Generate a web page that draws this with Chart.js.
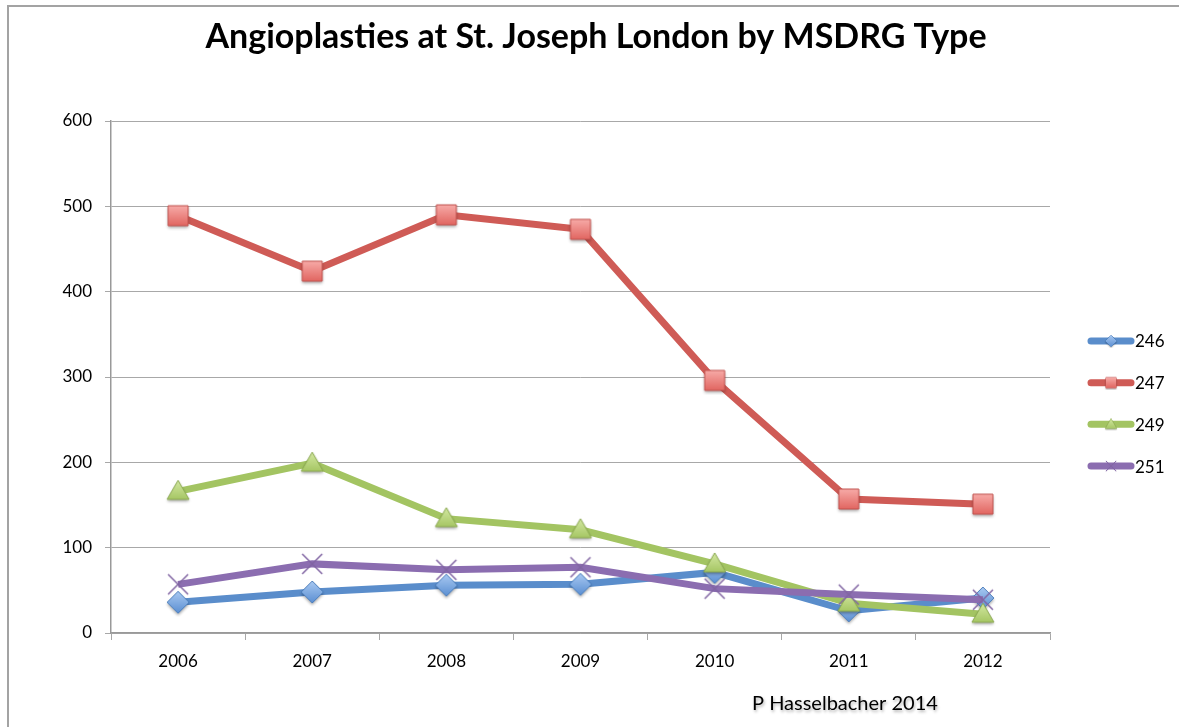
<!DOCTYPE html>
<html>
<head>
<meta charset="utf-8">
<script src="https://cdn.jsdelivr.net/npm/chart.js@4.4.1/dist/chart.umd.min.js"></script>
<style>
  html, body { margin: 0; padding: 0; background: #fff; }
  #wrap { width: 1179px; height: 727px; position: relative; }
</style>
</head>
<body>
<div id="wrap"><canvas id="chart"></canvas></div>
<script>
// Angioplasties at St. Joseph London by MSDRG Type

const years = ["2006", "2007", "2008", "2009", "2010", "2011", "2012"];
const drg246 = [36, 48, 56, 57, 71, 26, 41];
const drg247 = [489, 424, 490, 473, 296, 157, 151];
const drg249 = [166, 199, 134, 121, 81, 35, 22];
const drg251 = [57, 81, 74, 77, 52, 45, 39];
const yTicks = [0, 100, 200, 300, 400, 500, 600];

const TITLE = "Angioplasties at St. Joseph London by MSDRG Type";
const CREDIT = "P Hasselbacher 2014";
const FONT = "Lato, 'Open Sans', sans-serif";

const colors = {
  blue: { line: "#5a8dcb", light: "#a9c9f2", dark: "#5b8fd2", edge: "#4a7dbb" },
  red: { line: "#cf5b56", light: "#f8aeab", dark: "#e0625d", edge: "#c0504d" },
  green: { line: "#a3c462", light: "#d3e8a2", dark: "#9fc15a", edge: "#8aa84f" },
  purple: { line: "#8b6db0", edge: "#8064a2" },
};

// --- marker images (gradient + shadow) ---
function makeMarker(kind, c) {
  const cv = document.createElement("canvas");
  cv.width = 30;
  cv.height = 30;
  const g = cv.getContext("2d");
  const cx = 15, cy = 15;
  g.save();
  if (kind !== "cross") {
    g.shadowColor = "rgba(0,0,0,0.35)";
    g.shadowBlur = 3;
    g.shadowOffsetY = 2;
  }
  const grad = g.createLinearGradient(0, cy - 11, 0, cy + 11);
  if (c.light) {
    grad.addColorStop(0, c.light);
    grad.addColorStop(1, c.dark);
  }
  g.beginPath();
  if (kind === "square") {
    g.rect(cx - 10, cy - 10, 20, 20);
  } else if (kind === "diamond") {
    g.moveTo(cx, cy - 11);
    g.lineTo(cx + 11, cy);
    g.lineTo(cx, cy + 11);
    g.lineTo(cx - 11, cy);
    g.closePath();
  } else if (kind === "triangle") {
    g.moveTo(cx, cy - 11);
    g.lineTo(cx + 11, cy + 8);
    g.lineTo(cx - 11, cy + 8);
    g.closePath();
  }
  if (kind === "cross") {
    g.moveTo(cx - 10, cy - 10);
    g.lineTo(cx + 10, cy + 10);
    g.moveTo(cx + 10, cy - 10);
    g.lineTo(cx - 10, cy + 10);
    g.strokeStyle = c.edge;
    g.lineWidth = 1.5;
    g.stroke();
  } else {
    g.fillStyle = grad;
    g.fill();
    g.shadowColor = "transparent";
    g.strokeStyle = c.edge;
    g.lineWidth = 1;
    g.stroke();
  }
  g.restore();
  return cv;
}

const series = [
  { label: "246", data: drg246, c: colors.blue, marker: "diamond" },
  { label: "247", data: drg247, c: colors.red, marker: "square" },
  { label: "249", data: drg249, c: colors.green, marker: "triangle" },
  { label: "251", data: drg251, c: colors.purple, marker: "cross" },
];

// small legend marker (scaled-down)
function makeLegendMarker(kind, c) {
  const big = makeMarker(kind, c);
  const cv = document.createElement("canvas");
  cv.width = 14;
  cv.height = 14;
  cv.getContext("2d").drawImage(big, 0, 0, 30, 30, -1, -1, 16, 16);
  return cv;
}

// --- frame, title, legend, credit ---
const decorPlugin = {
  id: "decor",
  beforeDraw(chart) {
    const ctx = chart.ctx;
    ctx.save();
    ctx.strokeStyle = "#a3a3a3";
    ctx.lineWidth = 2;
    ctx.beginPath();
    ctx.moveTo(8, chart.height);
    ctx.lineTo(8, 6);
    ctx.lineTo(chart.width, 6);
    ctx.stroke();

    ctx.fillStyle = "#000";
    ctx.font = "bold 34px " + FONT;
    ctx.textAlign = "center";
    ctx.textBaseline = "middle";
    ctx.fillText(TITLE, 596, 37);
    ctx.restore();
  },
  afterDraw(chart) {
    const ctx = chart.ctx;
    const area = chart.chartArea;
    ctx.save();
    // legend
    const x0 = area.right + 38;
    const yMid = 403.5;
    const step = 41.7;
    chart.data.datasets.forEach((ds, i) => {
      const y = yMid + (i - 1.5) * step;
      ctx.strokeStyle = ds.borderColor;
      ctx.lineWidth = 7;
      ctx.lineCap = "round";
      ctx.beginPath();
      ctx.moveTo(x0 + 3, y);
      ctx.lineTo(x0 + 43, y);
      ctx.stroke();
      ctx.drawImage(ds.legendMarker, x0 + 23 - 7, y - 7);
      ctx.fillStyle = "#000";
      ctx.font = "17px " + FONT;
      ctx.textAlign = "left";
      ctx.textBaseline = "middle";
      ctx.fillText(ds.label, x0 + 47, y + 1);
    });
    // credit
    ctx.shadowColor = "rgba(0,0,0,0.3)";
    ctx.shadowBlur = 3;
    ctx.shadowOffsetX = 1;
    ctx.shadowOffsetY = 2;
    ctx.fillStyle = "#000";
    ctx.font = "20px " + FONT;
    ctx.textAlign = "left";
    ctx.textBaseline = "middle";
    ctx.fillText(CREDIT, 752, 704);
    ctx.restore();
  },
};

const gridColor = "#a8a8a8";

new Chart(document.getElementById("chart"), {
  type: "line",
  data: {
    labels: years,
    datasets: series.map((s, i) => ({
      label: s.label,
      data: s.data,
      borderColor: s.c.line,
      borderWidth: 7,
      tension: 0,
      pointStyle: makeMarker(s.marker, s.c),
      pointRadius: 11,
      pointHoverRadius: 11,
      legendMarker: makeLegendMarker(s.marker, s.c),
      order: 4 - i,
    })),
  },
  options: {
    responsive: true,
    maintainAspectRatio: false,
    animation: false,
    events: [],
    layout: { padding: { left: 0, right: 129, top: 121, bottom: 0 } },
    plugins: {
      legend: { display: false },
      tooltip: { enabled: false },
      title: { display: false },
    },
    scales: {
      x: {
        offset: true,
        grid: {
          display: true,
          drawOnChartArea: false,
          drawTicks: true,
          tickLength: 7,
          tickColor: gridColor,
          offset: true,
        },
        border: { display: true, color: "#999", width: 1.5 },
        ticks: { color: "#000", font: { family: FONT, size: 17 }, padding: 11, maxRotation: 0 },
        afterFit: (s) => { s.height = 94; },
      },
      y: {
        min: 0,
        max: 600,
        afterBuildTicks: (s) => { s.ticks = yTicks.map((v) => ({ value: v })); },
        grid: { color: gridColor, lineWidth: 1, tickLength: 6, tickColor: gridColor },
        border: { display: true, color: "#999", width: 1.5 },
        ticks: { color: "#000", font: { family: FONT, size: 17 }, padding: 13 },
        afterFit: (s) => { s.width = 111; },
      },
    },
  },
  plugins: [decorPlugin],
});
</script>
</body>
</html>
